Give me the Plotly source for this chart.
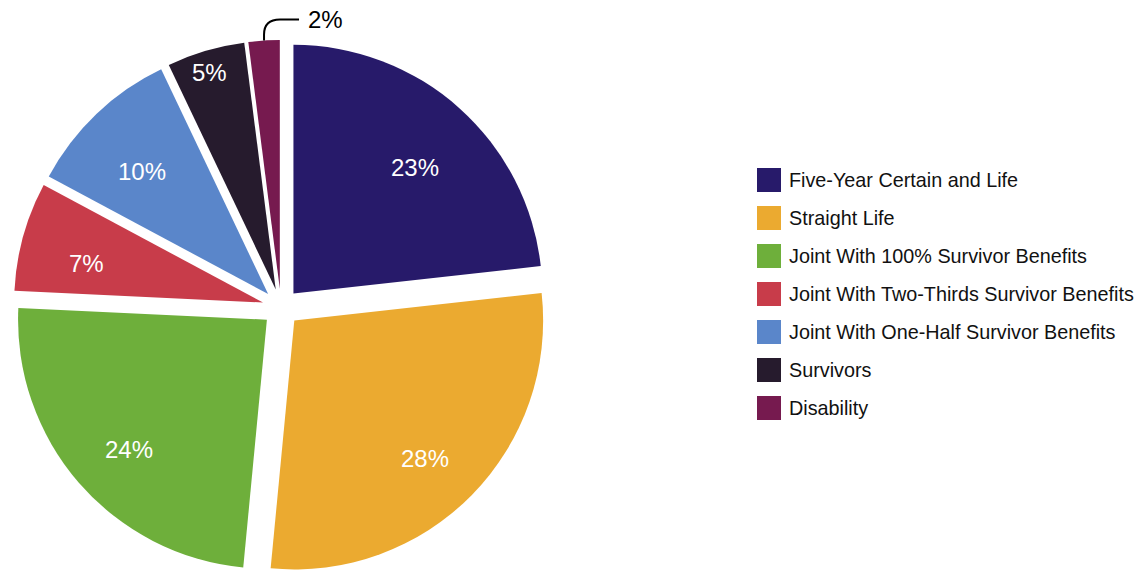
import math
import plotly.graph_objects as go

# Share of annuity payment options
labels = [
    "Five-Year Certain and Life",
    "Straight Life",
    "Joint With 100% Survivor Benefits",
    "Joint With Two-Thirds Survivor Benefits",
    "Joint With One-Half Survivor Benefits",
    "Survivors",
    "Disability",
]
shares = [23, 28, 24, 7, 10, 5, 2]
colors = ["#271A6A", "#EBAA30", "#6EAF3B", "#C83C4A", "#5A86CA", "#261B2D", "#761A4F"]

W, H = 1146, 575
PULL = 0.075
DOM_X = [13.5 / W, 548.5 / W]
DOM_Y = [0.0, 535 / H]
FONT = "Liberation Sans, Arial, sans-serif"

fig = go.Figure()
fig.add_trace(go.Pie(
    labels=labels, values=shares, sort=False,
    direction="clockwise", rotation=0, pull=PULL,
    marker=dict(colors=colors, line=dict(width=0)),
    textinfo="none",
    domain=dict(x=DOM_X, y=DOM_Y),
    showlegend=False, hoverinfo="label+value",
))

# Pie geometry in pixels (same rule plotly uses to size a pie in its domain)
box_w = (DOM_X[1] - DOM_X[0]) * W
box_h = (DOM_Y[1] - DOM_Y[0]) * H
R = min(box_w, box_h) / 2 / (1 + PULL)
cx = (DOM_X[0] + DOM_X[1]) / 2 * W
cy = H * (1 - DOM_Y[0]) - box_h / 2
total = sum(shares)


def slice_point(i, frac_r):
    """Pixel point on the middle ray of slice i, frac_r of the radius out from its apex."""
    mid = (sum(shares[:i]) + shares[i] / 2) / total
    ang = 2 * math.pi * mid
    dx, dy = math.sin(ang), -math.cos(ang)
    ax_, ay_ = cx + dx * R * PULL, cy + dy * R * PULL
    return ax_ + dx * R * frac_r, ay_ + dy * R * frac_r


annotations = []
shapes = []

# Percent labels inside the slices; narrow slices get them nearer the rim
for i, v in enumerate(shares[:-1]):
    px, py = slice_point(i, 0.735 if v >= 6 else 0.95)
    annotations.append(dict(
        xref="paper", yref="paper", x=px / W, y=1 - py / H,
        text=f"{v}%", showarrow=False, xanchor="center", yanchor="middle",
        yshift=-10,
        font=dict(family=FONT, size=24, color="white"),
    ))

# Curved callout for the smallest slice
tx, ty = slice_point(len(shares) - 1, 1.0)
bend = 21
path = (
    f"M {tx / W},{1 - ty / H} "
    f"L {tx / W},{1 - (ty - 6) / H} "
    f"Q {tx / W},{1 - (ty - bend) / H} {(tx + 16) / W},{1 - (ty - bend) / H} "
    f"L {(tx + 35) / W},{1 - (ty - bend) / H}"
)
shapes.append(dict(type="path", xref="paper", yref="paper", path=path,
                   line=dict(color="black", width=2)))
annotations.append(dict(
    xref="paper", yref="paper", x=(tx + 42) / W, y=1 - (ty - bend) / H,
    text=f"{shares[-1]}%", showarrow=False, xanchor="left", yanchor="middle",
    font=dict(family=FONT, size=24, color="black"),
))

# Legend drawn as large swatches with labels beside them
sw, row_gap, top, left = 24, 38, 168, 757
for i, (lab, col) in enumerate(zip(labels, colors)):
    y0 = top + i * row_gap
    shapes.append(dict(
        type="rect", xref="paper", yref="paper",
        x0=left / W, x1=(left + sw) / W,
        y0=1 - (y0 + sw) / H, y1=1 - y0 / H,
        fillcolor=col, line=dict(width=0),
    ))
    annotations.append(dict(
        xref="paper", yref="paper",
        x=(left + sw + 6) / W, y=1 - (y0 + sw / 2) / H,
        xanchor="left", yanchor="middle", showarrow=False,
        text=lab,
        font=dict(family=FONT, size=19.8, color="#111111"),
    ))

fig.update_layout(
    width=W, height=H,
    margin=dict(l=0, r=0, t=0, b=0, autoexpand=False),
    paper_bgcolor="white", plot_bgcolor="white",
    showlegend=False,
    shapes=shapes, annotations=annotations,
)

fig.write_html("out.html")
